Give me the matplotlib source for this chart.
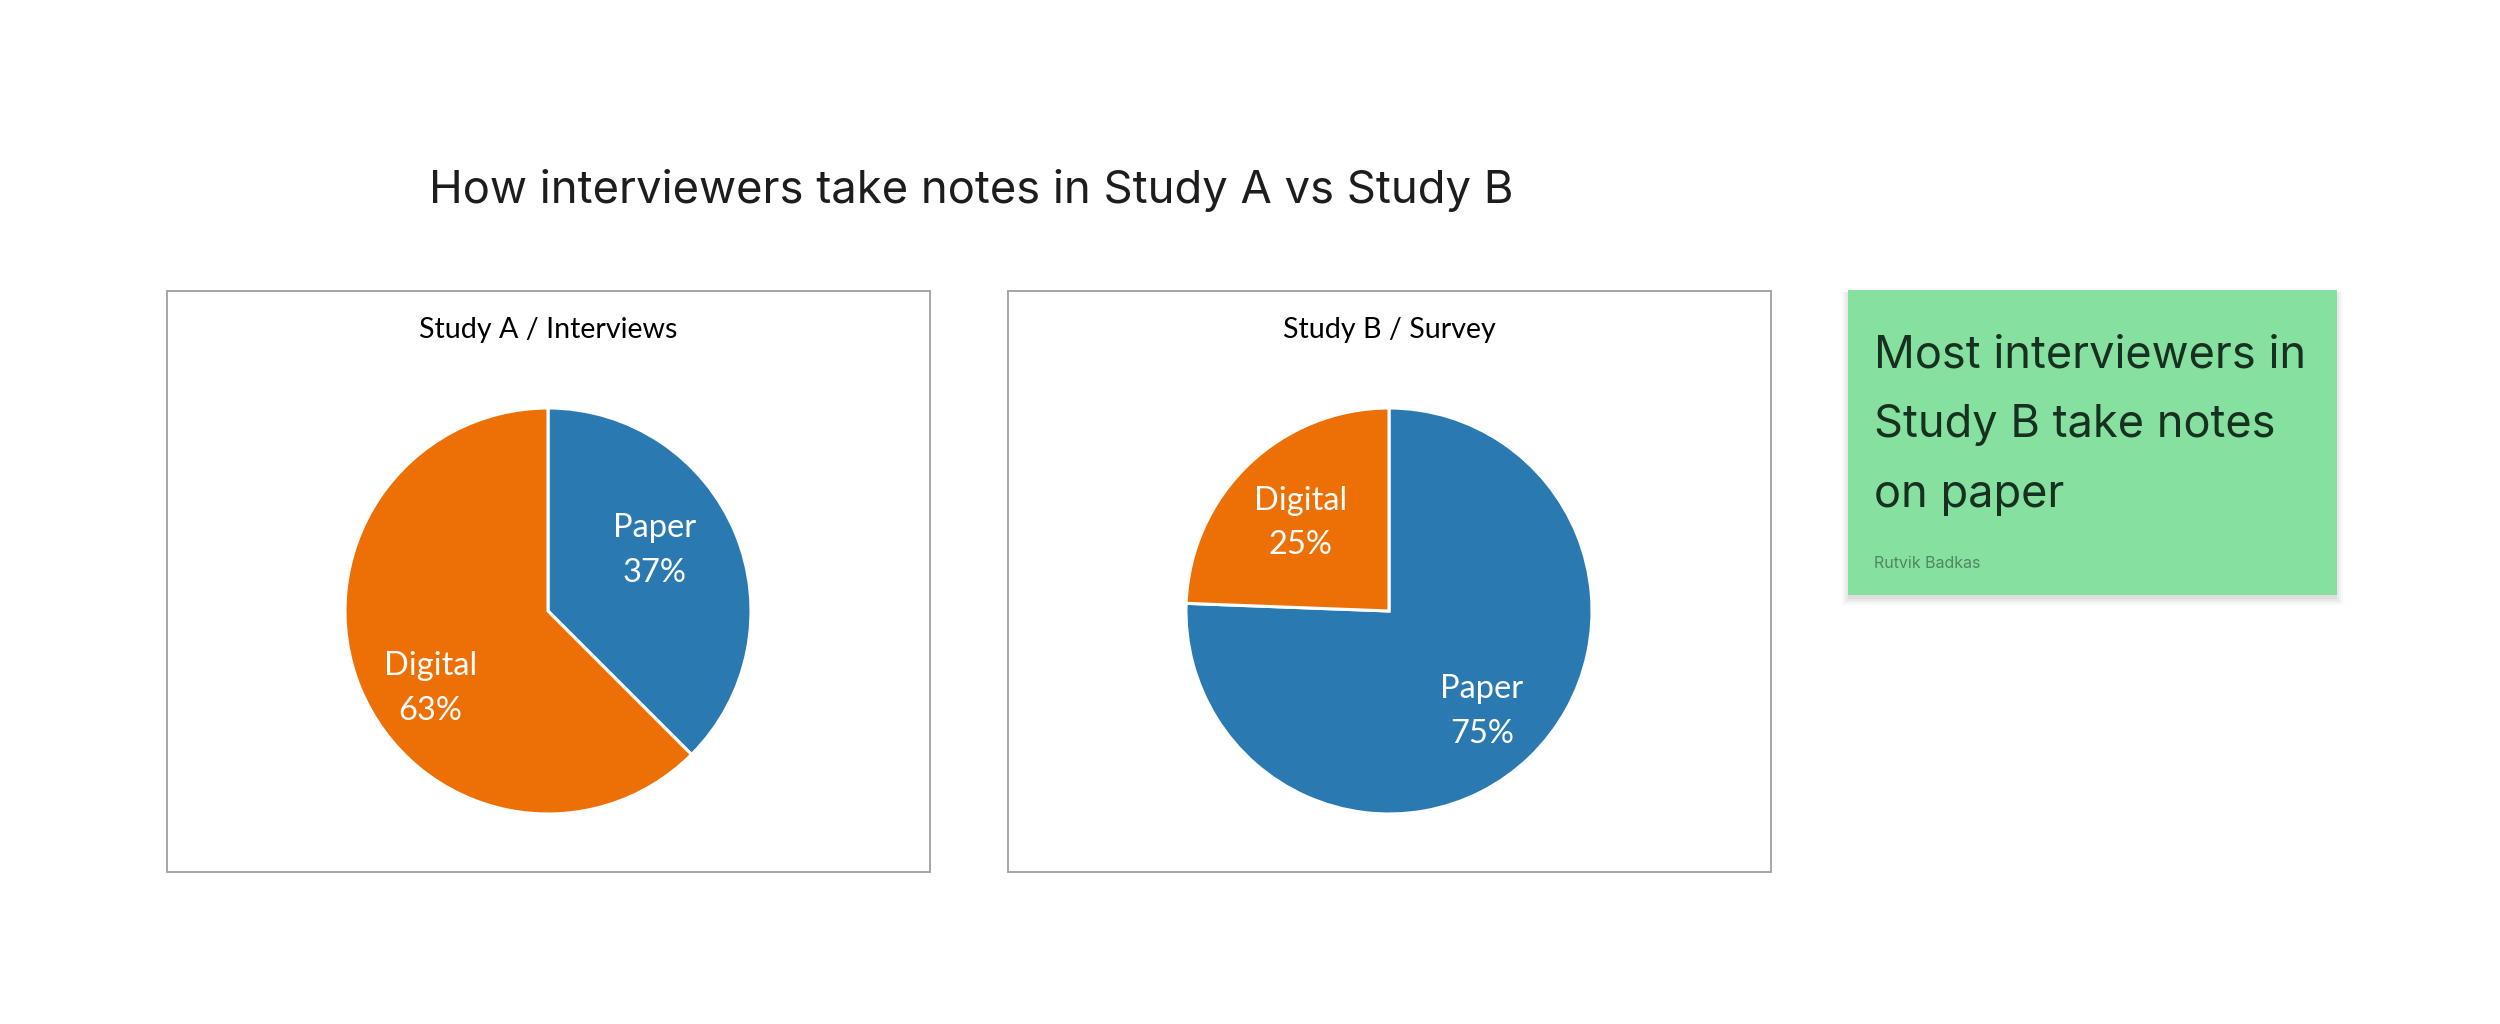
import numpy as np
import matplotlib.pyplot as plt
from matplotlib.patches import Rectangle

# figure is 2500 x 1024 px, all placement below done in pixels
W, H = 2500, 1024

title = 'How interviewers take notes in Study A vs Study B'
categories = ['Paper', 'Digital']
study_a_title = 'Study A / Interviews'
study_a_values = [37.5, 62.5]
study_a_labels = ['37%', '63%']
study_b_title = 'Study B / Survey'
study_b_values = [75.6, 24.4]
study_b_labels = ['75%', '25%']
note_lines = ['Most interviewers in', 'Study B take notes', 'on paper']
author = 'Rutvik Badkas'

colors = ['#2A7AB1', '#EC7005']
green = '#86E1A0'
box_edge = '#A6A6A6'

fig = plt.figure(figsize=(W / 100, H / 100), dpi=100)
fig.patch.set_facecolor('white')


def px(x, y):
    # pixel coords (top-left origin) -> figure fraction
    return x / W, 1 - y / H


def add_rect(x0, y0, x1, y1, **kw):
    fx, fy = px(x0, y1)
    r = Rectangle((fx, fy), (x1 - x0) / W, (y1 - y0) / H,
                  transform=fig.transFigure, zorder=-1, **kw)
    fig.add_artist(r)
    return r


def draw_pie(cx, cy, r, values, labels, name, dists):
    left, bottom = px(cx - r, cy + r)
    ax = fig.add_axes([left, bottom, 2 * r / W, 2 * r / H])
    ax.set_zorder(2)
    wedges, _ = ax.pie(values, colors=colors, startangle=90, counterclock=False,
                       wedgeprops=dict(edgecolor='white', linewidth=2.2))
    for w, cat, lab, d in zip(wedges, categories, labels, dists):
        mid = np.deg2rad((w.theta1 + w.theta2) / 2)
        ax.text(d[0] * np.cos(mid) + d[1], d[0] * np.sin(mid) + d[2],
                cat + '\n' + lab, ha='center', va='center', color='white',
                fontsize=23.5, family='Lato', linespacing=1.6)
    ax.set_xlim(-1, 1)
    ax.set_ylim(-1, 1)
    ax.set_aspect('equal')
    ax.axis('off')
    tx, ty = px(cx, cy - 273)
    fig.text(tx, ty, name, ha='center', va='baseline', fontsize=20.6,
             family='Lato', color='black')


# chart frames
add_rect(167, 291, 930, 872, facecolor='white', edgecolor=box_edge, linewidth=1.4)
add_rect(1008, 291, 1771, 872, facecolor='white', edgecolor=box_edge, linewidth=1.4)

# (distance, dx, dy) for label placement
draw_pie(548, 611, 203, study_a_values, study_a_labels, study_a_title,
         [(0.62, -0.05, 0.06), (0.66, 0.03, -0.13)])
draw_pie(1389, 611, 203, study_b_values, study_b_labels, study_b_title,
         [(0.66, 0.0, -0.02), (0.63, 0.0, -0.02)])

# main title
tx, ty = px(971, 203)
fig.text(tx, ty, title, ha='center', va='baseline', fontsize=32.7,
         family='Inter', color='#1d1d1f')

# green note card with soft shadow
for i, a in enumerate([0.025, 0.03, 0.035, 0.04]):
    s = 8 - 2 * i
    add_rect(1848 - s + 2, 290 + 2, 2337 + s - 2, 595 + s + 2,
             facecolor='black', edgecolor='none', alpha=a)
add_rect(1848, 290, 2337, 595, facecolor=green, edgecolor='none')

for i, line in enumerate(note_lines):
    tx, ty = px(1874, 367 + i * 70)
    fig.text(tx, ty, line, ha='left', va='baseline', fontsize=32.5,
             family='Inter', color='#17301f')
tx, ty = px(1874, 568)
fig.text(tx, ty, author, ha='left', va='baseline', fontsize=11.5,
         family='Inter', color='#4f8760')

fig.savefig('out.png', dpi=100, facecolor='white')
